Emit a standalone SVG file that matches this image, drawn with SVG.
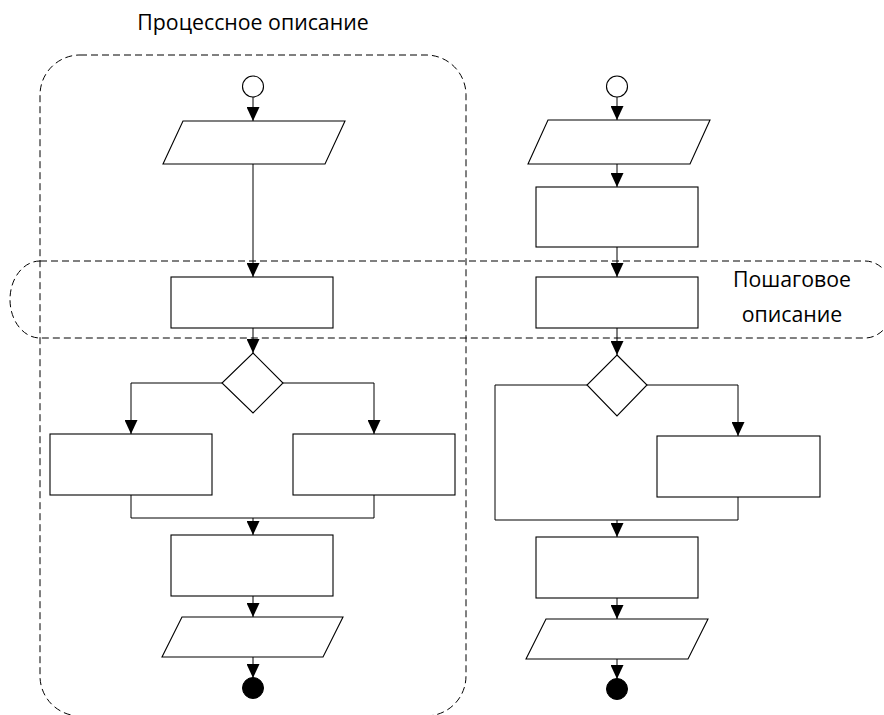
<svg xmlns="http://www.w3.org/2000/svg" width="884" height="715" viewBox="0 0 884 715">
<style>
.shape{fill:#fff;stroke:#000;stroke-width:1.1}
.line{fill:none;stroke:#000;stroke-width:1}
.dash{fill:none;stroke:#000;stroke-width:1;stroke-dasharray:7 4}
.lbl{font-family:"Open Sans","Noto Sans",sans-serif;font-size:21.3px;fill:#000;text-anchor:middle}
.endc{fill:#000;stroke:#000}
</style>
<defs>
<marker id="arr" markerUnits="userSpaceOnUse" markerWidth="14" markerHeight="13" refX="14" refY="6.5" orient="auto">
<path d="M0,0 L14,6.5 L0,13 z" fill="#000"/>
</marker>
</defs>
<rect width="884" height="715" fill="#fff"/>

<g id="groups">
<path class="dash" d="M80,55 H426 A40,40 0 0 1 466,95 V676 A40,40 0 0 1 426,716 H80 A40,40 0 0 1 40,676 V95 A40,40 0 0 1 80,55 Z"/>
<path class="dash" d="M40,261 H865 A30,38.5 0 0 1 865,338 H40 A30,38.5 0 0 1 40,261 Z"/>
<text class="lbl" x="253" y="30">Процессное описание</text>
<text class="lbl" x="792" y="287">Пошаговое</text>
<text class="lbl" x="792" y="322">описание</text>
</g>

<g id="connectors">
<line class="line" x1="253" y1="97" x2="253" y2="121" marker-end="url(#arr)"/>
<line class="line" x1="253" y1="164" x2="253" y2="277" marker-end="url(#arr)"/>
<line class="line" x1="253" y1="328" x2="253" y2="353" marker-end="url(#arr)"/>
<polyline class="line" points="222,383 131,383 131,434" marker-end="url(#arr)"/>
<polyline class="line" points="283,383 374,383 374,434" marker-end="url(#arr)"/>
<polyline class="line" points="131,495 131,518 374,518 374,495"/>
<line class="line" x1="253" y1="518" x2="253" y2="535" marker-end="url(#arr)"/>
<line class="line" x1="253" y1="596" x2="253" y2="617" marker-end="url(#arr)"/>
<line class="line" x1="253" y1="657" x2="253" y2="678" marker-end="url(#arr)"/>

<line class="line" x1="617" y1="97" x2="617" y2="120" marker-end="url(#arr)"/>
<line class="line" x1="617" y1="164" x2="617" y2="187" marker-end="url(#arr)"/>
<line class="line" x1="617" y1="247" x2="617" y2="277" marker-end="url(#arr)"/>
<line class="line" x1="617" y1="328" x2="617" y2="355" marker-end="url(#arr)"/>
<polyline class="line" points="587,385 495,385 495,520 738,520"/>
<polyline class="line" points="647,385 738,385 738,436" marker-end="url(#arr)"/>
<line class="line" x1="738" y1="497" x2="738" y2="520"/>
<line class="line" x1="617" y1="520" x2="617" y2="537" marker-end="url(#arr)"/>
<line class="line" x1="617" y1="598" x2="617" y2="619" marker-end="url(#arr)"/>
<line class="line" x1="617" y1="659" x2="617" y2="679" marker-end="url(#arr)"/>
</g>

<g id="L-start"><circle class="shape" cx="253" cy="86.5" r="10.5"/></g>
<g id="L-input"><polygon class="shape" points="183,121 345,121 325,164 163,164"/></g>
<g id="L-step"><rect class="shape" x="171" y="277" width="162" height="51"/></g>
<g id="L-decision"><polygon class="shape" points="253,353 283,383 253,413 222,383"/></g>
<g id="L-branch1"><rect class="shape" x="50" y="434" width="162" height="61"/></g>
<g id="L-branch2"><rect class="shape" x="293" y="434" width="162" height="61"/></g>
<g id="L-proc"><rect class="shape" x="171" y="535" width="162" height="61"/></g>
<g id="L-output"><polygon class="shape" points="182,617 343,617 323,657 162,657"/></g>
<g id="L-end"><circle class="endc" cx="253" cy="688" r="10.5"/></g>

<g id="R-start"><circle class="shape" cx="617" cy="86.5" r="10.5"/></g>
<g id="R-input"><polygon class="shape" points="548,120 710,120 690,164 528,164"/></g>
<g id="R-proc1"><rect class="shape" x="536" y="187" width="162" height="60"/></g>
<g id="R-step"><rect class="shape" x="536" y="277" width="162" height="51"/></g>
<g id="R-decision"><polygon class="shape" points="617,355 647,385 617,416 587,385"/></g>
<g id="R-branch"><rect class="shape" x="657" y="436" width="163" height="61"/></g>
<g id="R-proc2"><rect class="shape" x="536" y="537" width="162" height="61"/></g>
<g id="R-output"><polygon class="shape" points="546,619 708,619 688,659 526,659"/></g>
<g id="R-end"><circle class="endc" cx="617" cy="689" r="10.5"/></g>
</svg>
